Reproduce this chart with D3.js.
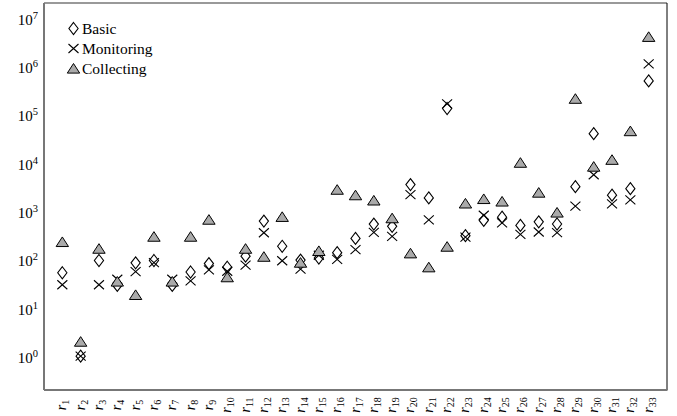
<!DOCTYPE html>
<html>
<head>
<meta charset="utf-8">
<script src="https://cdn.jsdelivr.net/npm/d3@7"></script>
<style>
  body { margin: 0; background: #fff; }
  text { font-family: "Liberation Serif", "Times New Roman", serif; fill: #000; }
</style>
</head>
<body>
<div id="chart"></div>
<script>
// category subscripts r1..r33
const categories = ['1','2','3','4','5','6','7','8','9','10','11','12','13','14','15','16','17',
  '18','19','20','21','22','23','24','25','26','27','28','29','30','31','32','33'];

const basic = [53, 1, 95, 29, 85, 95, 29, 55, 82, 69, 117, 620, 187, 97, 107, 138, 272,
  537, 483, 3530, 1870, 132000, 310, 640, 747, 505, 600, 540, 3200, 39800, 2130, 2900, 490000];
const monitoring = [30, 1, 30, 39, 56, 86, 39, 36, 61, 57, 76, 356, 94, 63, 122, 100, 159,
  363, 300, 2180, 660, 164000, 290, 820, 570, 330, 369, 358, 1260, 5640, 1410, 1700, 1100000];
const collecting = [230, 2, 167, 35, 18.5, 296, 35, 296, 665, 43, 167, 114, 760, 86, 150, 2770, 2130,
  1660, 713, 134, 69, 184, 1440, 1780, 1580, 10000, 2410, 935, 210000, 8300, 11500, 45000, 4000000];

const yTickExps = [0, 1, 2, 3, 4, 5, 6, 7];
const legendLabels = ['Basic', 'Monitoring', 'Collecting'];

const W = 677, H = 416;
const plot = {left: 44, right: 667, top: 3, bottom: 390};

const svg = d3.select('#chart').append('svg')
  .attr('width', W)
  .attr('height', H);

const x = d3.scalePoint()
  .domain(categories)
  .range([plot.left, plot.right])
  .padding(1);

const y = d3.scaleLog()
  .domain([0.2, 2e7])
  .range([plot.bottom, plot.top]);

// marker shapes
const shapes = {
  diamond: 'M0,-6L4.6,0L0,6L-4.6,0Z',
  cross: 'M-5,-4.5L5,4.5M-5,4.5L5,-4.5',
  triangle: 'M0,-5L6.2,4.6L-6.2,4.6Z'
};

function drawMarker(g, kind) {
  const p = g.append('path').attr('d', shapes[kind]).attr('stroke', '#000');
  if (kind === 'diamond') p.attr('fill', '#fff').attr('stroke-width', 1.1);
  else if (kind === 'cross') p.attr('fill', 'none').attr('stroke-width', 1.1);
  else p.attr('fill', '#aaaaaa').attr('stroke-width', 1);
}

// frame
svg.append('line').attr('x1', plot.left).attr('x2', plot.right).attr('y1', plot.top).attr('y2', plot.top)
  .attr('stroke', '#777').attr('stroke-width', 1.5);
svg.append('line').attr('x1', plot.right).attr('x2', plot.right).attr('y1', plot.top).attr('y2', plot.bottom)
  .attr('stroke', '#000').attr('stroke-width', 1);
svg.append('line').attr('x1', plot.left).attr('x2', plot.right + 0.5).attr('y1', plot.bottom).attr('y2', plot.bottom)
  .attr('stroke', '#777').attr('stroke-width', 2);
svg.append('line').attr('x1', plot.left).attr('x2', plot.left).attr('y1', plot.top).attr('y2', plot.bottom)
  .attr('stroke', '#777').attr('stroke-width', 2);

// y tick labels 10^k
const yLab = svg.append('g').selectAll('text')
  .data(yTickExps)
  .enter().append('text')
  .attr('x', 38)
  .attr('y', d => y(Math.pow(10, d)) + 7)
  .attr('text-anchor', 'end')
  .style('font-size', '15px');
yLab.append('tspan').text('10');
yLab.append('tspan').attr('dy', -6).style('font-size', '10.5px').text(d => d);

// x tick labels r_i, rotated
const xLab = svg.append('g').selectAll('text')
  .data(categories)
  .enter().append('text')
  .attr('transform', d => 'translate(' + (x(d) + 4) + ',405) rotate(-90)')
  .attr('text-anchor', 'middle')
  .style('font-size', '14px');
xLab.append('tspan').style('font-style', 'italic').text('r');
xLab.append('tspan').attr('dy', 3).style('font-size', '10px').text(d => d);

// series
const series = [
  {values: basic, kind: 'diamond'},
  {values: monitoring, kind: 'cross'},
  {values: collecting, kind: 'triangle'}
];

series.forEach(s => {
  const g = svg.append('g');
  s.values.forEach((v, i) => {
    const m = g.append('g').attr('transform', 'translate(' + x(categories[i]) + ',' + y(v) + ')');
    drawMarker(m, s.kind);
  });
});

// legend
const legend = svg.append('g');
series.forEach((s, i) => {
  const ly = 28.5 + i * 20;
  const m = legend.append('g').attr('transform', 'translate(73.5,' + ly + ')');
  drawMarker(m, s.kind);
  legend.append('text')
    .attr('x', 82)
    .attr('y', ly + 5)
    .style('font-size', '15.5px')
    .text(legendLabels[i]);
});
</script>
</body>
</html>
